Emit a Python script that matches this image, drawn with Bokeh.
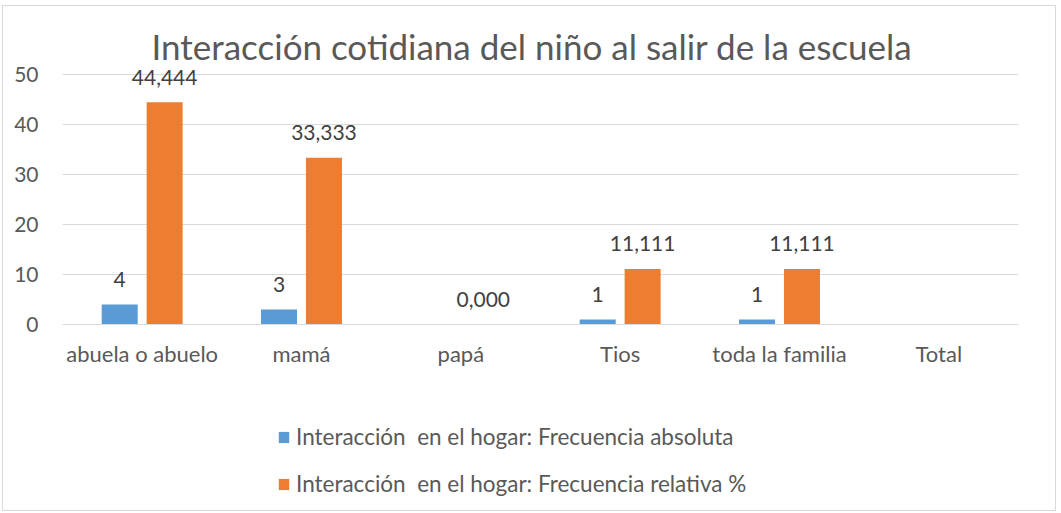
from bokeh.plotting import figure
from bokeh.models import (ColumnDataSource, FactorRange, Legend, LegendItem, Label,
                          Range1d, FixedTicker)
from bokeh.transform import dodge
from bokeh.embed import file_html
from bokeh.resources import INLINE
from bokeh.core.properties import value

# ---- data ----
categories = ["abuela o abuelo", "mamá", "papá", "Tios", "toda la familia", "Total"]
freq_abs = [4, 3, None, 1, 1, None]
freq_rel = [44.444, 33.333, 0.0, 11.111, 11.111, None]
series_names = ["Interacción  en el hogar: Frecuencia absoluta",
                "Interacción  en el hogar: Frecuencia relativa %"]
title_text = "Interacción cotidiana del niño al salir de la escuela"
y_ticks = [0, 10, 20, 30, 40, 50]

BLUE = "#5B9BD5"
ORANGE = "#ED7D31"
TXT = "#595959"
LBL = "#404040"
GRID = "#D9D9D9"
FONT = "Lato"

abs_src = ColumnDataSource(dict(
    cat=[c for c, v in zip(categories, freq_abs) if v is not None],
    val=[v for v in freq_abs if v is not None],
    lab=[str(v) for v in freq_abs if v is not None],
))
rel_src = ColumnDataSource(dict(
    cat=[c for c, v in zip(categories, freq_rel) if v is not None],
    val=[v for v in freq_rel if v is not None],
    lab=[f"{v:.3f}".replace(".", ",") for v in freq_rel if v is not None],
))

OX, OY = 2, 5               # offset of the chart box on the page
W, H = 1054, 506
TOP, BOT = 18, 0            # frame spans almost the whole figure vertically
PX_PER_UNIT = 5.0           # 10 units = 50 px
ZERO_Y = 323 - OY           # pixel row of the value 0
y_top = (ZERO_Y - TOP) / PX_PER_UNIT
y_bot = -((H - BOT) - ZERO_Y) / PX_PER_UNIT

p = figure(width=W, height=H, output_backend="svg", toolbar_location=None,
           x_range=FactorRange(*categories, range_padding=0, factor_padding=0),
           y_range=Range1d(y_bot, y_top),
           min_border_left=61 - OX, min_border_right=W - (1017 - OX), min_border_top=TOP,
           min_border_bottom=BOT,
           styles={"border": "1px solid #D9D9D9", "margin": f"{OY}px 0 0 {OX}px"})

off = 0.141
bw = 0.226
r1 = p.vbar(x=dodge("cat", -off, range=p.x_range), top="val", width=bw, source=abs_src,
            fill_color=BLUE, line_color=None)
r2 = p.vbar(x=dodge("cat", off, range=p.x_range), top="val", width=bw, source=rel_src,
            fill_color=ORANGE, line_color=None)

for src, o in ((abs_src, -off), (rel_src, off)):
    p.text(x=dodge("cat", o, range=p.x_range), y="val", text="lab", source=src,
           y_offset=-25, text_align="center", text_baseline="middle",
           text_font=value(FONT), text_font_size="21px", text_color=LBL)

# title (inside the extended frame)
p.add_layout(Label(x=89, y=H + TOP - (62 - OY), x_units="screen", y_units="screen",
                   text=title_text, text_align="left", text_baseline="alphabetic",
                   text_font=FONT, text_font_size="35px", text_color=TXT))

p.yaxis.ticker = FixedTicker(ticks=y_ticks)
p.yaxis.axis_line_color = None
p.yaxis.major_tick_line_color = None
p.yaxis.minor_tick_line_color = None
p.yaxis.major_label_standoff = 18
p.yaxis.major_label_text_font_size = "21px"

p.xaxis.fixed_location = 0
p.xaxis.axis_line_color = GRID
p.xaxis.major_tick_line_color = None
p.xaxis.minor_tick_line_color = None
p.xaxis.major_label_standoff = 9
p.xaxis.major_label_text_font_size = "22px"
for ax in (p.xaxis, p.yaxis):
    ax.major_label_text_font = FONT
    ax.major_label_text_color = TXT
p.xgrid.grid_line_color = None
p.ygrid.grid_line_color = GRID
p.ygrid.grid_line_width = 1
p.outline_line_color = None

legend = Legend(items=[LegendItem(label=series_names[0], renderers=[r1]),
                       LegendItem(label=series_names[1], renderers=[r2])],
                location=(276 - 61, 15), orientation="vertical", spacing=20,
                padding=0, margin=0, border_line_alpha=0, background_fill_alpha=0,
                glyph_width=13, glyph_height=14, label_standoff=6, label_height=24,
                label_text_font=FONT, label_text_font_size="22.5px", label_text_color=TXT)
p.add_layout(legend)

open("out.html", "w").write(file_html(p, INLINE))
